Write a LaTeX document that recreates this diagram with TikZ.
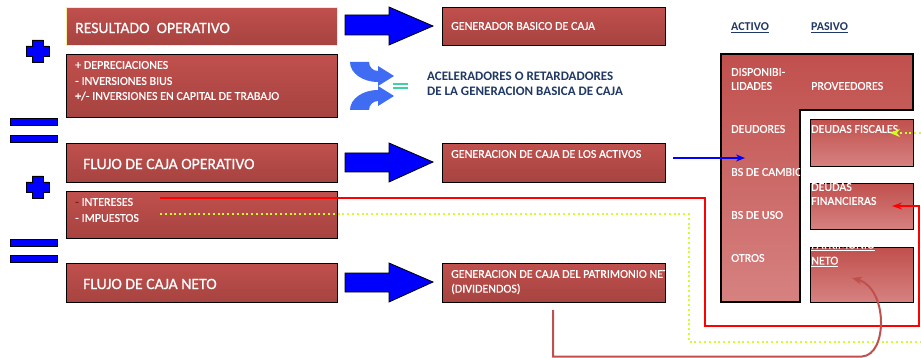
\documentclass[tikz,border=0pt]{standalone}
\usepackage{fontspec}
\setmainfont{Carlito}
\newfontfamily\heavyfont{Carlito}[FakeBold=0.6]
\usetikzlibrary{arrows.meta}
\definecolor{bt}{RGB}{192,80,77}
\definecolor{bb}{RGB}{166,67,64}
\definecolor{rb}{RGB}{214,130,129}
\definecolor{pblue}{RGB}{0,0,255}
\definecolor{navy}{RGB}{31,56,100}
\definecolor{lime}{RGB}{206,255,40}
\definecolor{cblue}{RGB}{63,108,242}
\definecolor{teal2}{RGB}{64,208,165}
\definecolor{paleyellow}{RGB}{245,240,160}
\definecolor{darkdash}{RGB}{110,30,30}
\begin{document}
\begin{tikzpicture}[x=1pt,y=-1pt,
 lbox/.style={draw=black, line width=1.1, top color=bt, bottom color=bb, anchor=north west, inner sep=0, minimum width=271},
 gbox/.style={draw=black, line width=1.1, top color=bt, bottom color=bb, anchor=north west, inner sep=0, minimum width=223},
 rbox/.style={draw=black, line width=1.1, top color=bt, bottom color=rb, anchor=north west, inner sep=0, minimum width=103},
 bigtxt/.style={text=white, anchor=west, font=\heavyfont\fontsize{15.7}{18}\selectfont, inner sep=0},
 smtxt/.style={text=white, anchor=west, font=\heavyfont\fontsize{12}{14}\selectfont, inner sep=0},
 gentxt/.style={text=white, anchor=west, font=\heavyfont\fontsize{12}{14}\selectfont, inner sep=0},
 navytxt/.style={text=navy, anchor=west, font=\fontsize{13}{15}\selectfont\bfseries, inner sep=0},
 headtxt/.style={text=navy, anchor=west, font=\fontsize{12}{14}\selectfont\bfseries, inner sep=0},
 fat/.style={fill=pblue, draw=black, line width=0.8},
 sign/.style={fill=pblue, draw=black, line width=0.8},
]
\useasboundingbox (0,0) rectangle (921,358);

% left boxes
\node[lbox, draw=paleyellow, minimum height=38] (ro) at (66,7) {};
\node[lbox, minimum height=63] (adj) at (66,54) {};
\node[lbox, minimum height=39] (fco) at (66,143) {};
\node[lbox, minimum height=47] (intb) at (66,191) {};
\node[lbox, minimum height=39] (fcn) at (66,263) {};

\node[bigtxt] (t-ro) at (75,28) {RESULTADO\ \ OPERATIVO};
\node[smtxt] (t-a1) at (75,65) {+ DEPRECIACIONES};
\node[smtxt] (t-a2) at (75,81) {- INVERSIONES BIUS};
\node[smtxt] (t-a3) at (75,96) {+/- INVERSIONES EN CAPITAL DE TRABAJO};
\node[bigtxt] (t-fco) at (83,164) {FLUJO DE CAJA OPERATIVO};
\node[smtxt] (t-i1) at (75,202) {{\color{darkdash}-} INTERESES};
\node[smtxt] (t-i2) at (75,218) {- IMPUESTOS};
\node[bigtxt] (t-fcn) at (83,284) {FLUJO DE CAJA NETO};

% signs
\draw[sign] (32,40) -- (43,40) -- (43,46) -- (49,46) -- (49,56) -- (43,56) -- (43,62) -- (32,62) -- (32,56) -- (26,56) -- (26,46) -- (32,46) -- cycle;
\draw[sign] (32,176) -- (43,176) -- (43,182) -- (49,182) -- (49,192) -- (43,192) -- (43,198) -- (32,198) -- (32,192) -- (26,192) -- (26,182) -- (32,182) -- cycle;
\draw[sign] (10,118) rectangle (57,125);
\draw[sign] (10,135) rectangle (57,142);
\draw[sign] (10,239) rectangle (57,246);
\draw[sign] (10,255) rectangle (57,262);

% fat arrows
\draw[fat] (345,15) -- (389,15) -- (389,7) -- (433,26) -- (389,45) -- (389,35) -- (345,35) -- cycle;
\draw[fat] (345,153) -- (389,153) -- (389,143) -- (433,162) -- (389,182) -- (389,172) -- (345,172) -- cycle;
\draw[fat] (345,273) -- (389,273) -- (389,263) -- (433,282) -- (389,302) -- (389,292) -- (345,292) -- cycle;

% middle boxes
\node[gbox, minimum height=38] (g1) at (442,7) {};
\node[gbox, minimum height=39] (g2) at (442,143) {};
\node[gbox, minimum height=39] (g3) at (442,263) {};
\node[gentxt] (t-g1) at (451,26) {GENERADOR BASICO DE CAJA};
\node[gentxt] (t-g2) at (451,154) {GENERACION DE CAJA DE LOS ACTIVOS};
\begin{scope}
\clip (442,263) rectangle (665,302);
\node[gentxt] (t-g3) at (451,274) {GENERACION DE CAJA DEL PATRIMONIO NETO};
\end{scope}
\node[gentxt] (t-g3b) at (451,289) {(DIVIDENDOS)};

% curved arrows icon
\fill[cblue] (350,62) arc[start angle=180, end angle=90, x radius=28, y radius=20]
  -- (378,86) -- (394,76) -- (378,66) -- (378,71)
  arc[start angle=90, end angle=180, radius=9] -- cycle;
\fill[cblue] (350,110) arc[start angle=180, end angle=270, x radius=28, y radius=20]
  -- (378,86) -- (394,96) -- (378,106) -- (378,101)
  arc[start angle=270, end angle=180, radius=9] -- cycle;
\draw[teal2, line width=1.2] (393,84) -- (408,84) (393,88) -- (408,88);
\node[navytxt] (t-ac1) at (427,76) {ACELERADORES O RETARDADORES};
\node[navytxt] (t-ac2) at (427,91) {DE LA GENERACION BASICA DE CAJA};

% balance sheet
\node[headtxt] (t-act) at (731,28) {\underline{ACTIVO}};
\node[headtxt] (t-pas) at (811,28) {\underline{PASIVO}};
\draw[line width=1.1, top color=bt, bottom color=rb] (721,54) -- (913,54) -- (913,110) -- (800,110) -- (800,302) -- (721,302) -- cycle;
\node[rbox, minimum height=47] (fis) at (810,119) {};
\node[rbox, minimum height=46] (fin) at (810,183) {};
\node[rbox, minimum height=55] (pat) at (810,247) {};

\node[gentxt] (t-d1) at (731,72) {DISPONIBI-};
\node[gentxt] (t-d2) at (731,86) {LIDADES};
\node[gentxt] (t-prov) at (811,86) {PROVEEDORES};
\node[gentxt] (t-deu) at (731,129) {DEUDORES};
\begin{scope}
\clip (721,150) rectangle (800,190);
\node[gentxt] (t-bsc) at (731,172) {BS DE CAMBIO};
\end{scope}
\node[gentxt] (t-bsu) at (731,215) {BS DE USO};
\node[gentxt] (t-otr) at (731,258) {OTROS};
\node[gentxt] (t-fis) at (811,129) {DEUDAS FISCALES};
\begin{scope}
\clip (805,182.5) rectangle (915,195);
\node[gentxt] (t-fin1) at (811,187) {DEUDAS};
\end{scope}
\node[gentxt] (t-fin2) at (811,201) {FINANCIERAS};
\begin{scope}
\clip (805,244) rectangle (915,256);
\node[gentxt, anchor=base west] (t-pat1) at (811,248.5) {\underline{PATRIMONIO}};
\end{scope}
\node[gentxt, anchor=base west] (t-pat2) at (811,264.5) {\underline{NETO}};

% connectors
\coordinate (bl-s) at (673,158);
\coordinate (bl-e) at (745,158);
\draw[pblue, line width=1.6, -{Stealth[length=9,width=7]}] (bl-s) -- (bl-e);

\coordinate (r-s) at (160,198);
\coordinate (r-c) at (705,326);
\coordinate (r-r) at (919,206);
\coordinate (r-e) at (892,206);
\draw[red, line width=2, -{Stealth[length=10,width=7]}] (r-s) -| (r-c) -| (r-r) -- (r-e);

\coordinate (g-s) at (160,214);
\coordinate (g-c) at (689,342);
\coordinate (g-r) at (924,133);
\coordinate (g-e) at (890,133);
\draw[lime, line width=2.2, dash pattern=on 2 off 2.8, -{Stealth[length=10,width=8]}] (g-s) -| (g-c) -| (g-r) -- (g-e);

\coordinate (b-s) at (553,310);
\coordinate (b-c) at (553,356.5);
\coordinate (b-m) at (862,356.5);
\coordinate (b-e) at (852,278);
\draw[bt, line width=2, -{Stealth[length=10,width=8]}] (b-s) -- (b-c) -- (b-m) .. controls (888,355) and (888,288) .. (b-e);
\end{tikzpicture}
\end{document}
